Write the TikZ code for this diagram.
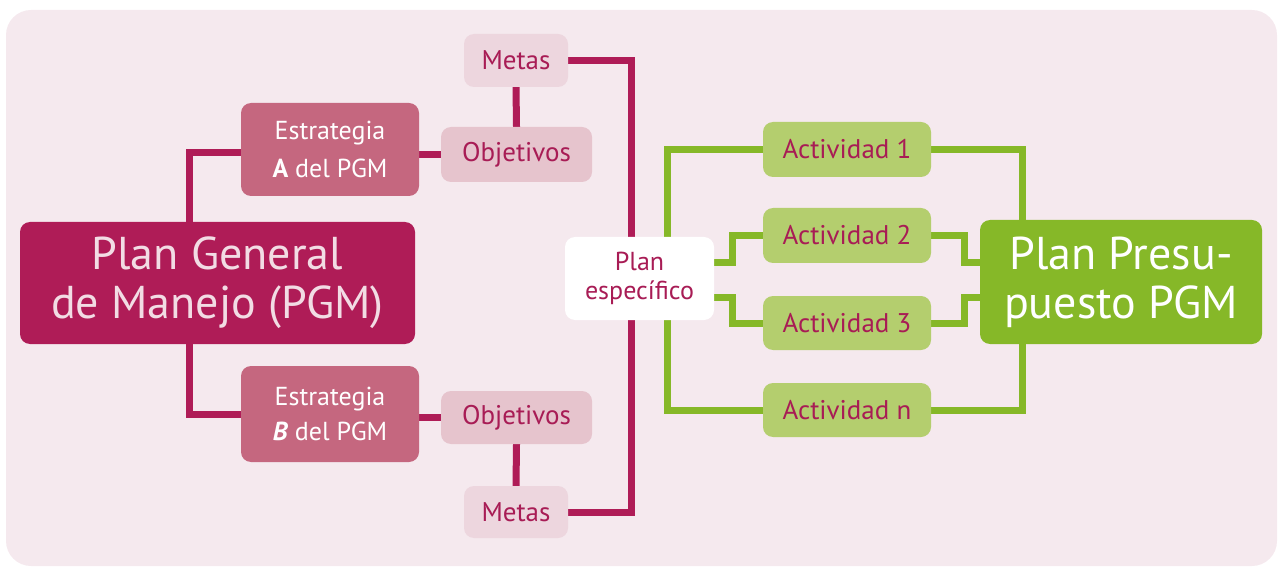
\documentclass[tikz,border=0pt]{standalone}
\usepackage{fontspec}
\setmainfont{PT Sans}
\usetikzlibrary{positioning}
\pgfdeclarelayer{bg}
\pgfdeclarelayer{lines}
\pgfsetlayers{bg,lines,main}
\definecolor{bgpink}{HTML}{F5E9EE}
\definecolor{magenta}{HTML}{AF1C57}
\definecolor{pgmtext}{HTML}{F2DCE4}
\definecolor{estcol}{HTML}{C5677F}
\definecolor{objcol}{HTML}{E6C4CD}
\definecolor{metcol}{HTML}{EDD6DE}
\definecolor{txtmag}{HTML}{A81C55}
\definecolor{lgreen}{HTML}{B4CE6E}
\definecolor{dgreen}{HTML}{86B828}
\tikzset{
  box/.style={rectangle, rounded corners=10pt, inner sep=0pt, align=center},
  bigbox/.style={box, font=\fontsize{46}{49}\selectfont},
  estbox/.style={box, fill=estcol, text=white, minimum width=178pt, font=\fontsize{26}{38}\selectfont},
  smallbox/.style={box, text=txtmag, font=\fontsize{27}{30}\selectfont},
  actbox/.style={smallbox, fill=lgreen, minimum width=168pt, minimum height=55pt},
  magline/.style={draw=magenta, line width=7pt},
  grnline/.style={draw=dgreen, line width=7pt},
}
\begin{document}
\begin{tikzpicture}[x=1pt,y=-1pt]
\useasboundingbox (0,0) rectangle (1279,569);
\begin{pgfonlayer}{bg}
\fill[bgpink, rounded corners=25pt] (6,10) rectangle (1277,566);
\end{pgfonlayer}
% nodes
\node[bigbox, fill=magenta, text=pgmtext, minimum width=395pt, minimum height=122pt] (pgm) at (217.5,283) {Plan General\\de Manejo (PGM)};
\node[estbox, minimum height=93pt] (estA) at (330,149.5) {Estrategia\\\textbf{A} del PGM};
\node[estbox, minimum height=96pt, font=\fontsize{26}{35}\selectfont] (estB) at (330,414) {Estrategia\\\textbf{\textit{B}} del PGM};
\node[smallbox, fill=objcol, minimum width=151pt, minimum height=55pt] (objA) at (516.5,154.5) {Objetivos};
\node[smallbox, fill=metcol, minimum width=104pt, minimum height=53pt] (metA) at (516,60.5) {Metas};
\node[smallbox, fill=objcol, minimum width=151pt, minimum height=53pt] (objB) at (516.5,417.5) {Objetivos};
\node[smallbox, fill=metcol, minimum width=104pt, minimum height=52pt] (metB) at (516,512) {Metas};
\node[smallbox, fill=white, minimum width=149pt, minimum height=83pt, font=\fontsize{26}{29}\selectfont] (plane) at (639.5,278.5) {Plan\\específico};
\node[actbox] (a1) at (847,149.5) {Actividad 1};
\node[actbox] (a2) at (847,235.5) {Actividad 2};
\node[actbox, minimum height=54pt] (a3) at (847,323) {Actividad 3};
\node[actbox, minimum height=54pt] (an) at (847,410) {Actividad n};
\node[bigbox, fill=dgreen, text=white, minimum width=282pt, minimum height=124pt] (ppgm) at (1121,282) {Plan Presu-\\puesto PGM};
% connectors
\begin{pgfonlayer}{lines}
\draw[magline] ([xshift=-28.5pt]pgm.north) |- ([yshift=-3.5pt]estA.west);
\draw[magline] ([xshift=-28.5pt]pgm.south) |- (estB.west);
\draw[magline] (objA.west) -- (objA.west -| estA.east);
\draw[magline] (objB.west) -- (objB.west -| estB.east);
\draw[magline] (objA.north) -- (metA.south);
\draw[magline] (objB.south) -- (metB.north);
\draw[magline] (metA.east) -- ++(63,0) |- (metB.east);
\draw[grnline] (a1.west) -- ++(-95,0) |- (an.west);
\draw[grnline] ([yshift=15.5pt]plane.east) -| ([xshift=-30pt]a2.west) -- (a2.west);
\draw[grnline] ([yshift=-18.5pt]plane.east) -| ([xshift=-30pt]a3.west) -- (a3.west);
\draw[grnline] (a1.east) -| ([xshift=-99pt]ppgm.north);
\draw[grnline] (an.east) -| ([xshift=-99pt]ppgm.south);
\draw[grnline] (a2.east) -- ++(33,0) |- ([yshift=19pt]ppgm.west);
\draw[grnline] (a3.east) -- ++(33,0) |- ([yshift=-15pt]ppgm.west);
\end{pgfonlayer}
\end{tikzpicture}
\end{document}
